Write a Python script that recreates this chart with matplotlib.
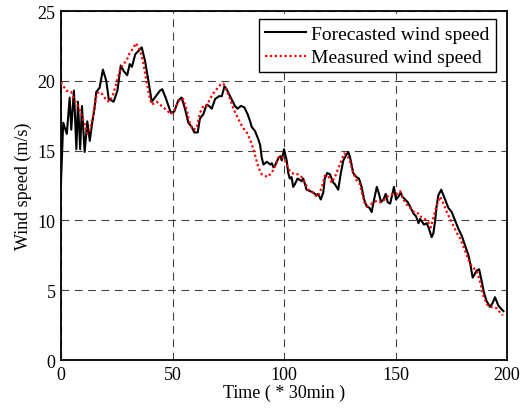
import numpy as np
import matplotlib
matplotlib.use('Agg')
import matplotlib.pyplot as plt

plt.rcParams['font.family'] = ['Liberation Serif', 'DejaVu Serif']

# Прогноз (чёрная линия): время (*30 мин) и скорость ветра
t_fc = [0, 1, 2.6, 3.9, 4.6, 5.8, 6.9, 7.6, 8.6, 9.4, 10.6, 11.8, 12.9, 14.0, 15.1, 15.8,
        17.3, 18.8, 20.3, 21.4, 22.6, 23.6, 25.3, 26.8, 28.1, 29.7, 30.8, 31.8, 33.3, 34.5,
        36.2, 37.7, 39.2, 40.7, 42.1, 44.4, 45.4, 46.9, 48.2, 49.3, 50.8, 52.6, 54.1, 55.6,
        57.1, 58.6, 59.8, 61.3, 62.3, 63.8, 65.3, 66.4, 67.6, 69.1, 70.9, 72.1, 73.3, 74.3,
        75.8, 78.0, 79.2, 80.7, 82.2, 83.7, 84.8, 85.5, 87.0, 88.5, 89.3, 90.0, 90.8, 92.3,
        93.8, 94.5, 95.3, 96.2, 97.6, 98.5, 99.0, 100.0, 101.2, 101.9, 102.6, 103.4, 104.1,
        104.9, 106.1, 107.1, 107.9, 108.6, 109.4, 110.1, 111.6, 113.1, 114.6, 115.3, 116.5,
        117.6, 118.3, 119.4, 120.6, 122.1, 122.8, 124.3, 125.5, 126.6, 127.6, 128.8, 129.5,
        130.3, 131.0, 132.5, 133.6, 134.8, 135.9, 137.1, 138.3, 139.3, 140.4, 141.6, 142.6,
        143.5, 144.6, 145.6, 146.5, 147.6, 148.7, 149.3, 150.2, 151.3, 152.3, 153.1, 154.3,
        155.5, 156.5, 158.0, 159.2, 160.3, 161.0, 162.8, 164.0, 165.0, 166.2, 167.0, 167.7,
        168.5, 169.2, 170.5, 171.0, 172.2, 173.7, 175.2, 176.7, 178.2, 179.7, 181.2, 182.7,
        183.4, 184.6, 185.7, 186.4, 187.5, 188.7, 189.7, 190.9, 192.4, 193.6, 194.6, 196.1,
        197.2, 198.4]
v_fc = [12.8, 17.0, 16.2, 18.8, 16.5, 19.3, 15.1, 18.5, 15.1, 18.2, 14.9, 17.1, 15.7, 17.0, 18.1, 19.2,
        19.5, 20.8, 20.0, 18.7, 18.6, 18.5, 19.3, 21.1, 20.7, 20.4, 21.2, 21.0, 21.9, 22.1,
        22.4, 21.4, 20.0, 18.5, 18.8, 19.3, 19.4, 18.8, 18.2, 17.7, 17.8, 18.6, 18.8, 18.0,
        17.0, 16.7, 16.3, 16.3, 17.3, 17.6, 18.3, 18.2, 18.0, 18.7, 18.9, 18.9, 19.6, 19.4,
        18.9, 18.2, 18.0, 18.2, 18.1, 17.6, 17.1, 16.7, 16.4, 15.8, 15.4, 14.5, 14.0, 14.2,
        14.0, 14.1, 13.8, 14.0, 14.5, 14.6, 14.3, 15.1, 14.3, 13.4, 13.0, 13.1, 12.4,
        12.6, 13.0, 12.9, 12.8, 13.0, 12.6, 12.2, 12.1, 12.0, 11.8, 11.9, 11.5,
        12.0, 13.0, 13.4, 13.3, 12.7, 12.6, 12.2, 13.4, 14.3, 14.6, 14.9, 14.6,
        14.0, 13.4, 13.1, 13.0, 12.4, 11.5, 11.0, 10.9, 10.6, 11.5, 12.4, 11.9,
        11.3, 11.5, 11.9, 11.3, 11.2, 12.0, 12.4, 11.5, 11.7, 12.0, 11.7, 11.5,
        11.3, 11.0, 10.5, 10.3, 9.8, 10.1, 9.7, 9.8, 9.4, 8.8, 9.1, 9.9,
        11.1, 11.8, 12.2, 12.0, 11.5, 10.9, 10.6, 10.0, 9.4, 8.9, 8.2, 7.5,
        7.0, 5.9, 6.2, 6.4, 6.5, 5.6, 4.8, 4.2, 3.8, 4.1, 4.5, 3.9,
        3.7, 3.5]

# Измерения (красная точечная линия)
t_ms = [0, 2.3, 4.6, 6.1, 7.6, 9.1, 10.6, 11.8, 12.9, 14.5, 16.0, 17.3, 18.8, 20.3, 21.8,
        23.3, 24.8, 26.3, 27.8, 29.3, 30.8, 32.3, 33.6, 35.4, 36.9, 38.4, 39.9, 40.7, 42.9,
        45.1, 47.4, 49.3, 51.1, 53.3, 54.8, 56.4, 57.8, 59.3, 60.8, 62.3, 63.8, 65.3, 66.8,
        68.3, 69.8, 71.3, 72.8, 74.3, 75.8, 77.3, 78.8, 80.3, 81.8, 83.3, 84.8, 86.3, 87.3,
        88.5, 90.0, 91.5, 92.5, 93.7, 95.2, 96.7, 97.5, 98.9, 100.4, 101.9, 103.4, 104.9,
        106.4, 107.9, 109.4, 110.9, 112.4, 113.9, 115.3, 117.0, 118.3, 119.8, 121.3, 122.8,
        124.3, 125.8, 127.0, 128.1, 129.5, 131.0, 132.5, 134.0, 135.1, 136.0, 137.1, 138.6,
        140.1, 141.6, 143.1, 144.6, 146.1, 147.6, 149.0, 150.6, 152.0, 153.2, 154.3, 155.8,
        157.3, 158.8, 160.3, 161.8, 163.2, 164.7, 165.8, 167.0, 168.2, 169.2, 170.0, 171.5,
        173.0, 174.5, 176.0, 177.5, 179.0, 180.5, 182.0, 183.4, 184.9, 186.4, 187.9, 189.4,
        190.9, 192.4, 193.9, 195.4, 196.9, 198.1]
v_ms = [19.9, 19.3, 19.2, 18.6, 18.2, 17.6, 16.9, 16.2, 16.4, 17.6, 19.1, 19.2, 19.0, 18.6, 18.5,
        19.0, 19.8, 20.7, 21.2, 21.4, 22.0, 22.3, 22.7, 22.2, 21.3, 19.9, 18.7, 18.3, 18.5,
        18.2, 17.9, 17.6, 18.0, 18.7, 18.7, 17.9, 16.9, 16.5, 16.6, 17.7, 18.2, 18.2, 18.7,
        19.1, 19.4, 19.7, 19.8, 19.3, 18.7, 18.0, 17.5, 17.0, 16.6, 16.3, 15.8, 15.1, 14.5,
        13.8, 13.3, 13.2, 13.1, 13.3, 13.6, 14.2, 14.5, 14.6, 14.3, 13.7, 13.4, 13.3,
        13.3, 13.1, 12.7, 12.2, 12.1, 11.8, 11.7, 12.4, 13.2, 13.2, 12.7, 13.1,
        13.7, 14.3, 14.8, 14.7, 14.3, 13.4, 12.9, 12.6, 11.9, 11.3, 11.0, 11.1,
        11.3, 11.4, 11.3, 11.4, 11.7, 11.8, 11.9, 11.9, 12.1, 11.6, 11.3, 11.0,
        10.8, 10.5, 10.5, 10.2, 10.1, 9.9, 9.5, 10.2, 10.9, 11.4, 11.7, 11.2,
        10.6, 10.1, 9.6, 9.1, 8.7, 8.1, 7.5, 6.9, 6.6, 6.4, 5.6, 4.6,
        4.0, 3.8, 3.8, 3.7, 3.4, 3.2]

x_ticks = [0, 50, 100, 150, 200]
y_ticks = [0, 5, 10, 15, 20, 25]

fig = plt.figure(figsize=(5.24, 4.10), dpi=100)
ax = fig.add_axes([0.1164, 0.1195, 0.8512, 0.8512])

ax.plot(t_fc, v_fc, color='black', lw=1.5, label='Forecasted wind speed', zorder=3)
ax.plot(t_ms, v_ms, color='red', lw=1.6, linestyle=(0, (1, 1.2)), label='Measured wind speed', zorder=4)

ax.set_xlim(0, 200)
ax.set_ylim(0, 25)
ax.set_xticks(x_ticks)
ax.set_yticks(y_ticks)
ax.grid(True, color='black', linestyle=(0, (7, 5)), lw=0.8, alpha=0.75)
ax.tick_params(direction='in', length=0, labelsize=13, pad=4)
for s in ax.spines.values():
    s.set_linewidth(1.3)

ax.set_xlabel('Time ( * 30min )', fontsize=13, labelpad=1)
ax.set_ylabel('Wind speed (m/s)', fontsize=13, labelpad=4)

leg = ax.legend(loc='upper right', fontsize=14, fancybox=False, edgecolor='black',
                framealpha=1, borderaxespad=0.4, handlelength=2.1, labelspacing=0.3,
                borderpad=0.3, handletextpad=0.3, bbox_to_anchor=(0.992, 0.998))
leg.get_frame().set_linewidth(1.0)

fig.savefig('out.png', dpi=100)
